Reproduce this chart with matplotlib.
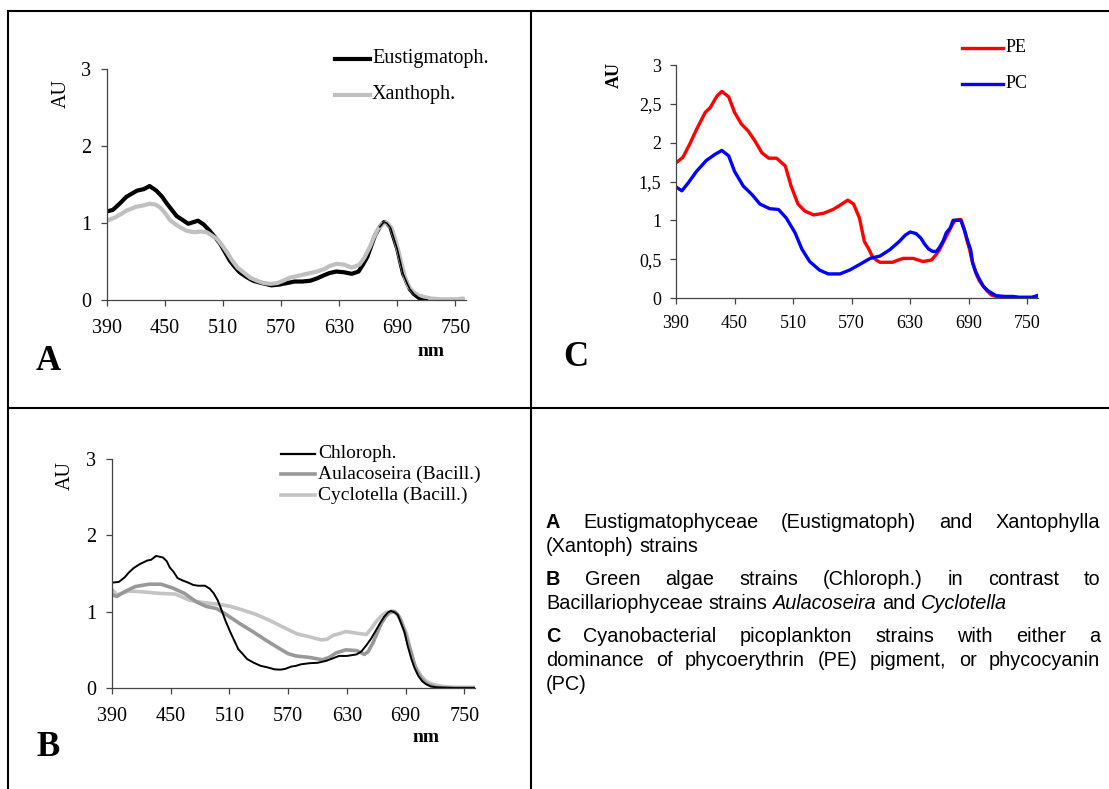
import matplotlib
matplotlib.use("Agg")
import matplotlib.pyplot as plt
from matplotlib.lines import Line2D

# ---------------- data ----------------
xticks = [390, 450, 510, 570, 630, 690, 750]
xtick_labels = ["390", "450", "510", "570", "630", "690", "750"]
yticks_ab = [0, 1, 2, 3]
ytick_labels_ab = ["0", "1", "2", "3"]
yticks_c = [0, 0.5, 1, 1.5, 2, 2.5, 3]
ytick_labels_c = ["0", "0,5", "1", "1,5", "2", "2,5", "3"]

# Panel A
eust_nm = [390, 396, 403, 410, 421, 428, 434, 441, 447, 452, 457, 462, 468, 474, 479, 484, 490, 496,
           502, 507, 512, 517, 522, 527, 534, 541, 550, 560, 568, 576, 584, 592, 600, 607, 614, 620,
           627, 635, 643, 650, 655, 659, 663, 667, 672, 676, 679, 683, 686, 690, 693, 696, 700, 703,
           707, 712, 716, 721]
eust_au = [1.15, 1.17, 1.25, 1.34, 1.42, 1.44, 1.48, 1.42, 1.34, 1.25, 1.17, 1.09, 1.04, 0.99, 1.01,
           1.03, 0.98, 0.90, 0.81, 0.73, 0.62, 0.51, 0.43, 0.36, 0.30, 0.25, 0.22, 0.19, 0.20, 0.22,
           0.24, 0.24, 0.25, 0.28, 0.32, 0.35, 0.37, 0.36, 0.34, 0.37, 0.47, 0.56, 0.70, 0.84, 0.95,
           1.01, 1.00, 0.94, 0.82, 0.66, 0.50, 0.34, 0.22, 0.14, 0.08, 0.03, 0.01, 0.0]
xan_nm = [390, 398, 405, 410, 420, 428, 434, 440, 445, 450, 455, 460, 466, 472, 480, 487, 493, 498,
          504, 509, 514, 519, 525, 532, 538, 545, 552, 559, 566, 572, 579, 586, 593, 600, 607, 614,
          620, 627, 635, 643, 651, 656, 662, 666, 670, 675, 679, 684, 688, 691, 695, 698, 702, 707,
          712, 717, 725, 734, 745, 752, 758]
xan_au = [1.03, 1.07, 1.12, 1.16, 1.21, 1.23, 1.25, 1.24, 1.20, 1.13, 1.04, 0.99, 0.94, 0.90, 0.88,
          0.89, 0.88, 0.84, 0.79, 0.71, 0.62, 0.52, 0.42, 0.35, 0.29, 0.25, 0.22, 0.21, 0.22, 0.25,
          0.29, 0.31, 0.33, 0.35, 0.37, 0.40, 0.44, 0.47, 0.46, 0.42, 0.46, 0.55, 0.70, 0.82, 0.92,
          0.99, 1.00, 0.94, 0.78, 0.64, 0.44, 0.29, 0.17, 0.10, 0.06, 0.04, 0.02, 0.01, 0.01, 0.01,
          0.02]

# Panel B
chl_nm = [390, 397, 403, 407, 412, 418, 426, 430, 435, 442, 446, 449, 453, 457, 462, 468, 473, 478,
          485, 490, 494, 498, 502, 506, 511, 515, 519, 524, 528, 535, 542, 549, 556, 562, 567, 573,
          578, 583, 592, 600, 609, 616, 622, 630, 640, 645, 650, 655, 660, 664, 668, 672, 675, 679,
          682, 686, 689, 692, 696, 699, 703, 707, 711, 716, 721, 740, 760]
chl_au = [1.38, 1.39, 1.45, 1.51, 1.57, 1.62, 1.67, 1.68, 1.73, 1.71, 1.66, 1.58, 1.52, 1.44, 1.41,
          1.38, 1.35, 1.34, 1.34, 1.30, 1.24, 1.15, 1.02, 0.88, 0.73, 0.62, 0.51, 0.44, 0.38, 0.33,
          0.29, 0.27, 0.245, 0.24, 0.25, 0.28, 0.29, 0.31, 0.325, 0.33, 0.356, 0.39, 0.42, 0.42, 0.44,
          0.48, 0.56, 0.65, 0.76, 0.85, 0.93, 0.99, 1.01, 0.99, 0.96, 0.83, 0.73, 0.56, 0.38, 0.27,
          0.16, 0.09, 0.05, 0.02, 0.01, 0.0, 0.0]
aul_nm = [390, 395, 404, 414, 428, 440, 452, 464, 476, 486, 497, 507, 521, 535, 548, 562, 570, 578,
          592, 605, 612, 619, 629, 640, 648, 652, 657, 661, 665, 670, 674, 679, 682, 685, 689, 692,
          696, 699, 702, 706, 710, 714, 721, 728, 745, 760]
aul_au = [1.22, 1.20, 1.27, 1.33, 1.36, 1.36, 1.31, 1.24, 1.13, 1.07, 1.04, 0.96, 0.84, 0.73, 0.62,
          0.51, 0.45, 0.42, 0.40, 0.37, 0.40, 0.46, 0.50, 0.49, 0.44, 0.48, 0.60, 0.72, 0.84, 0.94,
          0.99, 1.00, 0.96, 0.89, 0.75, 0.62, 0.46, 0.31, 0.21, 0.13, 0.07, 0.04, 0.01, 0.0, 0.0, 0.0]
cyc_nm = [390, 395, 407, 421, 438, 455, 469, 483, 497, 511, 524, 538, 552, 566, 579, 592, 604, 610,
          616, 622, 629, 639, 650, 655, 660, 665, 670, 677, 680, 684, 688, 691, 694, 697, 701, 706,
          710, 714, 720, 728, 740, 755, 760]
cyc_au = [1.29, 1.22, 1.27, 1.26, 1.24, 1.23, 1.15, 1.12, 1.10, 1.07, 1.02, 0.96, 0.88, 0.79, 0.71,
          0.67, 0.63, 0.64, 0.69, 0.71, 0.74, 0.72, 0.70, 0.78, 0.87, 0.94, 0.99, 1.01, 0.98, 0.93,
          0.80, 0.71, 0.55, 0.38, 0.26, 0.16, 0.10, 0.07, 0.04, 0.02, 0.01, 0.01, 0.01]

# Panel C
pe_nm = [390, 397, 404, 411, 420, 425, 432, 437, 444, 450, 457, 464, 471, 478, 485, 493, 502, 508,
         515, 522, 531, 541, 551, 560, 566, 572, 578, 583, 588, 591, 595, 599, 606, 612, 618, 623,
         628, 633, 638, 643, 648, 652, 656, 660, 664, 669, 673, 676, 680, 682, 685, 688, 691, 693,
         696, 698, 701, 705, 709, 713, 718, 722, 735, 750, 760]
pe_au = [1.74, 1.81, 1.98, 2.17, 2.39, 2.45, 2.60, 2.66, 2.59, 2.39, 2.24, 2.15, 2.02, 1.87, 1.80,
         1.80, 1.70, 1.44, 1.21, 1.12, 1.07, 1.09, 1.14, 1.21, 1.26, 1.21, 1.03, 0.73, 0.62, 0.54,
         0.49, 0.46, 0.46, 0.46, 0.49, 0.51, 0.51, 0.51, 0.49, 0.47, 0.48, 0.49, 0.55, 0.62, 0.72,
         0.84, 0.94, 1.00, 1.01, 1.01, 0.90, 0.75, 0.62, 0.50, 0.38, 0.30, 0.22, 0.15, 0.09, 0.04,
         0.02, 0.01, 0.0, 0.0, 0.01]
pc_nm = [390, 396, 403, 411, 421, 430, 437, 444, 450, 459, 468, 476, 486, 495, 503, 512, 519, 527,
         537, 546, 558, 568, 578, 589, 599, 609, 619, 625, 630, 636, 641, 645, 649, 653, 657, 660,
         664, 667, 671, 674, 678, 682, 686, 689, 692, 694, 697, 701, 705, 710, 718, 727, 735, 742,
         749, 755, 760]
pc_au = [1.43, 1.38, 1.49, 1.63, 1.77, 1.85, 1.90, 1.83, 1.63, 1.44, 1.33, 1.21, 1.15, 1.14, 1.03,
         0.84, 0.63, 0.47, 0.36, 0.31, 0.31, 0.36, 0.43, 0.51, 0.54, 0.62, 0.73, 0.81, 0.85, 0.83,
         0.77, 0.69, 0.63, 0.60, 0.60, 0.65, 0.74, 0.84, 0.90, 1.0, 1.0, 1.0, 0.86, 0.73, 0.62, 0.45,
         0.34, 0.24, 0.15, 0.09, 0.03, 0.02, 0.02, 0.01, 0.01, 0.01, 0.03]

# ---------------- figure ----------------
W, H = 1109, 789
plt.rcParams["font.family"] = ["Liberation Serif", "DejaVu Serif"]
fig = plt.figure(figsize=(W / 100, H / 100), dpi=100)
fig.patch.set_facecolor("white")


def fx(x):
    return x / W


def fy(y):
    return 1 - y / H


def make_axes(left, right, top, bottom):
    return fig.add_axes([fx(left), fy(bottom), (right - left) / W, (bottom - top) / H])


def style_axes(ax, yt, ytl, fs, xpad, ypad):
    ax.set_xlim(390, 761)
    ax.set_ylim(0, 3)
    ax.patch.set_alpha(0)
    for s in ["top", "right"]:
        ax.spines[s].set_visible(False)
    for s in ["left", "bottom"]:
        ax.spines[s].set_color("#444444")
        ax.spines[s].set_linewidth(0.9)
    ax.set_xticks(xticks)
    ax.set_xticklabels(xtick_labels)
    ax.set_yticks(yt)
    ax.set_yticklabels(ytl)
    ax.tick_params(direction="out", length=4.5, width=0.9, color="#444444", labelsize=fs)
    ax.tick_params(axis="x", pad=xpad)
    ax.tick_params(axis="y", pad=ypad)


# frame lines
frame_lw = 1.5
for (x0, y0, x1, y1) in [(8, 11, 1109, 11), (8, 11, 8, 789), (531, 11, 531, 789), (8, 408, 1109, 408)]:
    fig.add_artist(Line2D([fx(x0), fx(x1)], [fy(y0), fy(y1)], color="black", lw=frame_lw,
                          transform=fig.transFigure))

# ---- Panel A ----
axA = make_axes(107, 466, 69, 300)
style_axes(axA, yticks_ab, ytick_labels_ab, 14.5, 9, 7)
axA.plot(eust_nm, eust_au, color="black", lw=3.0, solid_capstyle="round")
axA.plot(xan_nm, xan_au, color="#c0c0c0", lw=3.0, solid_capstyle="round")
axA.plot(eust_nm[-14:], eust_au[-14:], color="black", lw=1.2)

fig.text(fx(61), fy(93), "AU", rotation=90, fontsize=14.5, ha="center", va="center")
fig.text(fx(48), fy(362), "A", fontsize=25, weight="bold", ha="center", va="center")
fig.text(fx(431), fy(352), "nm", fontsize=14, weight="bold", ha="center", va="center")


def legend_entry(x0, x1, y, color, lw, label, fs, tx):
    fig.add_artist(Line2D([fx(x0), fx(x1)], [fy(y), fy(y)], color=color, lw=lw,
                          transform=fig.transFigure))
    fig.text(fx(tx), fy(y), label, fontsize=fs, ha="left", va="center")


legend_entry(335, 370, 59, "black", 3.0, "Eustigmatoph.", 14.5, 372)
legend_entry(335, 370, 95, "#c0c0c0", 3.0, "Xanthoph.", 14.5, 372)

# ---- Panel B ----
axB = make_axes(112, 475, 459, 688)
style_axes(axB, yticks_ab, ytick_labels_ab, 14.5, 9, 7)
axB.plot(cyc_nm, cyc_au, color="#c4c4c4", lw=2.6)
axB.plot(aul_nm, aul_au, color="#999999", lw=2.6)
axB.plot(chl_nm, chl_au, color="black", lw=1.4)

fig.text(fx(65), fy(475), "AU", rotation=90, fontsize=14.5, ha="center", va="center")
fig.text(fx(48), fy(748), "B", fontsize=25, weight="bold", ha="center", va="center")
fig.text(fx(426), fy(738), "nm", fontsize=14, weight="bold", ha="center", va="center")
legend_entry(281, 315, 454, "black", 1.6, "Chloroph.", 14, 318)
legend_entry(281, 315, 474, "#999999", 2.6, "Aulacoseira (Bacill.)", 14, 318)
legend_entry(281, 315, 495, "#c4c4c4", 2.6, "Cyclotella (Bacill.)", 14, 318)

# ---- Panel C ----
axC = make_axes(676, 1038, 65, 298)
style_axes(axC, yticks_c, ytick_labels_c, 13, 8, 6)
axC.plot(pe_nm, pe_au, color="#ff0000", lw=2.4)
axC.plot(pc_nm, pc_au, color="#0000ff", lw=2.4)

fig.text(fx(614), fy(75), "AU", rotation=90, fontsize=13, weight="bold", ha="center", va="center")
fig.text(fx(576), fy(357), "C", fontsize=25, weight="bold", ha="center", va="center")
legend_entry(962, 1003, 48, "#ff0000", 2.4, "PE", 13, 1006)
legend_entry(962, 1003, 84, "#0000ff", 2.4, "PC", 13, 1006)

# ---- caption text (justified) ----
renderer = fig.canvas.get_renderer()
CAP_FS = 14.3
CAP_FAM = ["Liberation Sans", "DejaVu Sans"]
X0, X1 = 546, 1100


def text_line(words, baseline, justify):
    arts = []
    for w, wt, st in words:
        t = fig.text(0, fy(baseline), w, fontsize=CAP_FS, family=CAP_FAM, weight=wt, style=st,
                     ha="left", va="baseline")
        arts.append(t)
    widths = [a.get_window_extent(renderer).width for a in arts]
    if justify and len(arts) > 1:
        gap = (X1 - X0 - sum(widths)) / (len(arts) - 1)
    else:
        gap = CAP_FS * 100 / 72 * 0.278
    x = X0
    for a, w in zip(arts, widths):
        a.set_x(fx(x))
        x += w + gap


def words_of(s, first_bold=False, italics=()):
    out = []
    for i, w in enumerate(s.split(" ")):
        wt = "bold" if (first_bold and i == 0) else "normal"
        st = "italic" if w in italics else "normal"
        out.append((w, wt, st))
    return out


text_line(words_of("A Eustigmatophyceae (Eustigmatoph) and Xantophylla", True), 528, True)
text_line(words_of("(Xantoph) strains"), 552, False)
text_line(words_of("B Green algae strains (Chloroph.) in contrast to", True), 585, True)
text_line(words_of("Bacillariophyceae strains Aulacoseira and Cyclotella",
                   italics=("Aulacoseira", "Cyclotella")), 609, False)
text_line(words_of("C Cyanobacterial picoplankton strains with either a", True), 642, True)
text_line(words_of("dominance of phycoerythrin (PE) pigment, or phycocyanin"), 666, True)
text_line(words_of("(PC)"), 690, False)

fig.savefig("out.png", dpi=100, facecolor="white")
